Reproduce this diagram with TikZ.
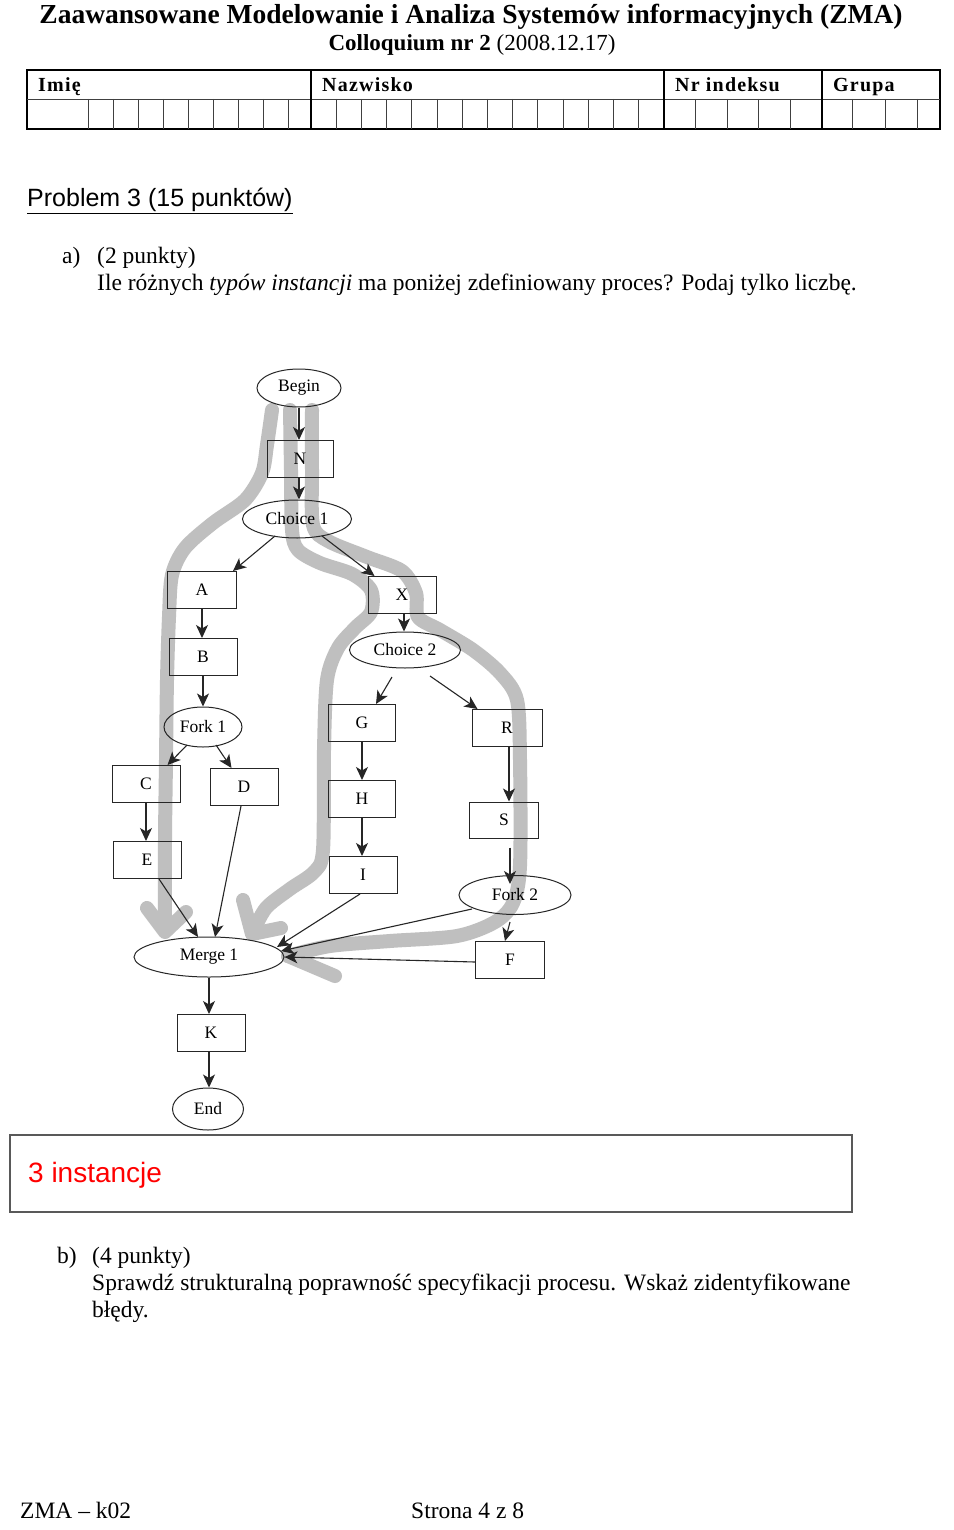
\documentclass[tikz,border=0pt]{standalone}
\usepackage{fontspec}
\setmainfont{Liberation Serif}
\setsansfont{Liberation Sans}
\newfontfamily\hdrfont[LetterSpace=6]{Liberation Serif}
\usetikzlibrary{shapes.geometric,arrows.meta,calc}
\begin{document}
\begin{tikzpicture}[x=1pt,y=-1pt,
  box/.style={draw=black!85, line width=1pt, minimum width=68pt, minimum height=37pt, inner sep=0pt, font=\fontsize{17.5}{20}\selectfont},
  oval/.style={ellipse, draw=black!85, line width=1pt, inner sep=0pt, font=\fontsize{17.5}{20}\selectfont},
  arr/.style={draw=black!85, line width=1.1pt, -{Stealth[length=13pt,width=12pt,inset=3.5pt]}},
  hl/.style={draw=black!25, line width=14pt, line cap=round, line join=round},
  txt/.style={anchor=base west, inner sep=0pt, font=\fontsize{23.5}{28}\selectfont},
  hdr/.style={anchor=base west, inner sep=0pt, font=\hdrfont\bfseries\fontsize{20}{24}\selectfont},
  major/.style={draw=black, line width=1.6pt},
  minor/.style={draw=black!75, line width=0.9pt}]
\useasboundingbox (0,0) rectangle (953,1530);
\fill[white] (0,0) rectangle (953,1530);

% ---- header ----
\node[anchor=base, inner sep=0pt, font=\bfseries\fontsize{27.5}{32}\selectfont] (title) at (471,24) {Zaawansowane Modelowanie i Analiza Systemów informacyjnych (ZMA)};
\node[anchor=base, inner sep=0pt, font=\fontsize{23}{27}\selectfont] (subtitle) at (472,51) {\textbf{Colloquium nr 2} (2008.12.17)};

\draw[major] (27,70) rectangle (940,129);
\draw[minor] (27,99) -- (940,99);
\foreach \xx in {311,664,822} \draw[major] (\xx,70) -- (\xx,129);
\foreach \i in {0,...,8} \draw[minor] ({88+25*\i},99) -- ({88+25*\i},129);
\foreach \i in {1,...,13} \draw[minor] ({311+25.21*\i},99) -- ({311+25.21*\i},129);
\foreach \i in {1,...,4} \draw[minor] ({664+31.6*\i},99) -- ({664+31.6*\i},129);
\foreach \xx in {852,885,917} \draw[minor] (\xx,99) -- (\xx,129);
\node[hdr] (limie) at (38,92) {Imię};
\node[hdr] (lnazw) at (322,92) {Nazwisko};
\node[hdr] (lnr) at (675,92) {Nr indeksu};
\node[hdr] (lgr) at (833,92) {Grupa};

\node[anchor=base west, inner sep=0pt, font=\sffamily\fontsize{25}{30}\selectfont] (prob) at (27,207) {\underline{Problem 3 (15 punktów)}};
\node[txt] (qa) at (62,263) {a)};
\node[txt] (qapts) at (97,263) {(2 punkty)};
\node[txt] (qatext) at (97,290) {Ile różnych \textit{typów instancji} ma poniżej zdefiniowany proces? Podaj tylko liczbę.};

% ---- grey hand-drawn strokes ----
\draw[hl] plot[smooth] coordinates {(272,410) (267,445) (262,473) (245,500) (213,523) (185,548) (172,575) (169,617) (167,680) (166,760) (165,840) (165,925)};
\draw[hl] (147,908) -- (165,932) -- (186,912);
\draw[hl] plot[smooth] coordinates {(290,410) (291,470) (292,530) (298,550) (320,563) (352,574) (371,590) (371,612) (355,628) (338,648) (327,680) (324,750) (323,850) (314,872) (290,889) (266,908) (253,932)};
\draw[hl] (243,900) -- (252,934) -- (281,928);
\draw[hl] plot[smooth] coordinates {(312,410) (312,470) (313,525) (328,541) (367,557) (402,571) (416,593) (418,617) (440,630) (473,650) (500,673) (517,700) (520,760) (520,866) (513,903) (495,922) (457,936) (390,941) (330,946) (288,956)};
\draw[hl] (288,956) -- (335,976);

% ---- process diagram ----
\node[oval, minimum width=84pt, minimum height=38pt] (begin) at (299,388) {Begin};
\node[box, minimum width=66pt] (N) at (300,459) {N};
\node[oval, minimum width=109pt, minimum height=38pt] (ch1) at (297,519) {Choice 1};
\node[box, minimum width=69pt] (A) at (202,590) {A};
\node[box] (X) at (402,595) {X};
\node[oval, minimum width=111pt, minimum height=36pt] (ch2) at (405,650) {Choice 2};
\node[box] (B) at (203,657) {B};
\node[oval, minimum width=78pt, minimum height=40pt] (fork1) at (203,727) {Fork 1};
\node[box] (C) at (146,784) {C};
\node[box] (D) at (244,787) {D};
\node[box] (E) at (147,860) {E};
\node[box, minimum width=67pt] (G) at (362,723) {G};
\node[box, minimum width=67pt] (H) at (362,799) {H};
\node[box] (I) at (363,875) {I};
\node[box, minimum width=70pt] (R) at (507,728) {R};
\node[box, minimum width=69pt, minimum height=36pt] (S) at (504,820) {S};
\node[oval, minimum width=112pt, minimum height=39pt] (fork2) at (515,895) {Fork 2};
\node[box, minimum width=69pt] (F) at (510,960) {F};
\node[oval, minimum width=150pt, minimum height=40pt] (merge) at (209,957) {Merge 1};
\node[box] (K) at (211,1033) {K};
\node[oval, minimum width=71pt, minimum height=42pt] (end) at (208,1109) {End};

\draw[arr] (begin.south) -- (begin.south |- N.north);
\draw[arr] ([shift={(-1,0)}]N.south) -- ([shift={(-1,0)}]N.south |- ch1.north);
\draw[arr] ([shift={(-22,17)}]ch1.center) -- ([shift={(-4,0)}]A.north east);
\draw[arr] ([shift={(25,17)}]ch1.center) -- ([shift={(7,0)}]X.north west);
\draw[arr] (A.south) -- (A.south |- B.north);
\draw[arr] ([shift={(2,0)}]X.south) -- ([shift={(2,0)}]X.south |- ch2.north);
\draw[arr] (B.south) -- (B.south |- fork1.north);
\draw[arr] ([shift={(-13,27)}]ch2.center) -- ([shift={(-20,0)}]G.north east);
\draw[arr] ([shift={(25,26)}]ch2.center) -- ([shift={(6,0)}]R.north west);
\draw[arr] ([shift={(-16,18)}]fork1.center) -- ([shift={(-13,0)}]C.north east);
\draw[arr] ([shift={(13,18)}]fork1.center) -- ([shift={(22,0)}]D.north west);
\draw[arr] (C.south) -- (C.south |- E.north);
\draw[arr] (G.south) -- (G.south |- H.north);
\draw[arr] (H.south) -- (H.south |- I.north);
\draw[arr] ([shift={(2,0)}]R.south) -- ([shift={(2,0)}]R.south |- S.north);
\draw[arr] ([shift={(6,9)}]S.south) -- ([shift={(6,9)}]S.south |- fork2.north);
\draw[arr] ([shift={(-5,7)}]fork2.south) -- ([shift={(-5,0)}]F.north);
\draw[arr] ([shift={(12,0)}]E.south) -- ([shift={(-11,-20)}]merge.center);
\draw[arr] ([shift={(-3,0)}]D.south) -- ([shift={(6,-20)}]merge.center);
\draw[arr] ([shift={(-3,0)}]I.south) -- ([shift={(68,-10)}]merge.center);
\draw[arr] ([shift={(-43,14)}]fork2.center) -- ([shift={(72,-6)}]merge.center);
\draw[arr] ([shift={(0,2)}]F.west) -- (merge.east);
\draw[arr] (merge.south) -- (merge.south |- K.north);
\draw[arr] ([shift={(-2,0)}]K.south) -- ([shift={(-2,0)}]K.south |- end.north);

% ---- answer box ----
\draw[draw=black!65, line width=1.2pt] (10,1135) rectangle (852,1212);
\node[anchor=base west, inner sep=0pt, text=red, font=\sffamily\fontsize{28}{32}\selectfont] (ans) at (28,1182) {3 instancje};

\node[txt] (qb) at (57,1263) {b)};
\node[txt] (qbpts) at (92,1263) {(4 punkty)};
\node[txt] (qbtext1) at (92,1290) {Sprawdź strukturalną poprawność specyfikacji procesu. Wskaż zidentyfikowane};
\node[txt] (qbtext2) at (92,1317) {błędy.};

\node[txt] (foot1) at (20,1518) {ZMA -- k02};
\node[txt] (foot2) at (411,1518) {Strona 4 z 8};
\end{tikzpicture}
\end{document}
